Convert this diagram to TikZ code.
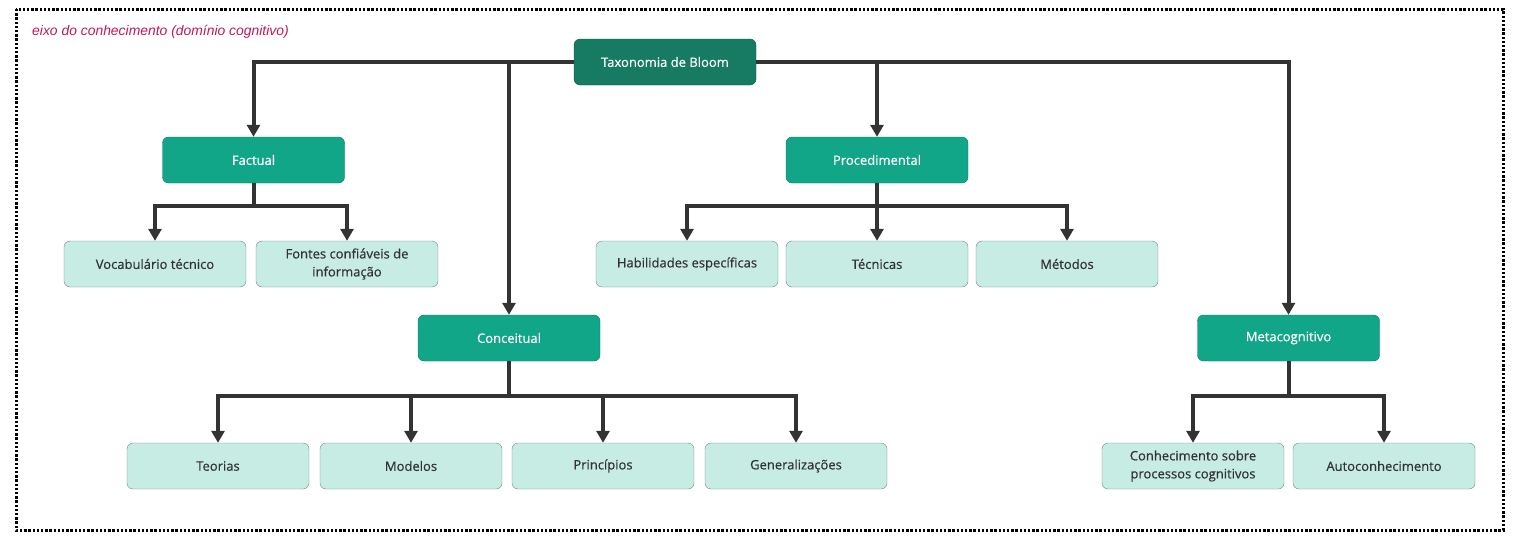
\documentclass[tikz,border=0pt]{standalone}
\usepackage{fontspec}
\setmainfont{Open Sans}
\newfontfamily\boxfont[FakeBold=0.5]{Open Sans}
\newfontfamily\notefont{Liberation Sans}
\usetikzlibrary{arrows.meta}

\definecolor{rootgreen}{RGB}{23,122,99}
\definecolor{rootline}{RGB}{14,84,68}
\definecolor{midgreen}{RGB}{17,166,136}
\definecolor{midline}{RGB}{12,118,97}
\definecolor{leafgreen}{RGB}{198,236,228}
\definecolor{leafline}{RGB}{110,140,132}
\definecolor{linkgray}{RGB}{51,51,51}
\definecolor{notered}{RGB}{192,24,90}

\begin{document}
\begin{tikzpicture}[x=1pt,y=1pt,yscale=-1,xscale=1,
  box/.style={rounded corners=6pt, minimum width=182pt, minimum height=46pt, inner sep=0pt, align=center, font=\boxfont\fontsize{13}{18}\selectfont},
  rootbox/.style={box, fill=rootgreen, draw=rootline, text=white},
  midbox/.style={box, fill=midgreen, draw=midline, text=white},
  leafbox/.style={box, fill=leafgreen, draw=leafline, text=linkgray},
  link/.style={draw=linkgray, line width=4pt, -{Triangle[width=13pt,length=12pt]}}]
\useasboundingbox (0,0) rectangle (1515,546);

%Shape: Frame
\draw [color=black, line width=3pt, dash pattern={on 2.4pt off 1.8pt}] (16,9) rectangle (1503,530);
% Text Node
\node [anchor=west, inner sep=0pt, text=notered, font=\notefont\itshape\fontsize{13.9}{16}\selectfont] (note) at (32,32) {eixo do conhecimento (domínio cognitivo)};

%Root
\node [rootbox] (root) at (665,62) {Taxonomia de Bloom};

%Second level
\node [midbox] (fact) at (253.5,160) {Factual};
\node [midbox] (proc) at (877,160) {Procedimental};
\node [midbox] (conc) at (509,338) {Conceitual};
\node [midbox] (meta) at (1288.5,338) {Metacognitivo};

%Leaves
\node [leafbox] (voc) at (155,264) {Vocabulário técnico};
\node [leafbox] (font) at (347,264) {Fontes confiáveis de\\informação};
\node [leafbox] (hab) at (687,264) {Habilidades específicas};
\node [leafbox] (tec) at (877,264) {Técnicas};
\node [leafbox] (met) at (1067,264) {Métodos};
\node [leafbox] (teo) at (218,466) {Teorias};
\node [leafbox] (mod) at (411,466) {Modelos};
\node [leafbox] (pri) at (603,466) {Princípios};
\node [leafbox] (gen) at (796,466) {Generalizações};
\node [leafbox] (proc2) at (1193,466) {Conhecimento sobre\\processos cognitivos};
\node [leafbox] (auto) at (1384,466) {Autoconhecimento};

%Links from root
\draw [link] (root.west) -| (fact.north);
\draw [link] (root.west) -| (conc.north);
\draw [link] (root.east) -| (proc.north);
\draw [link] (root.east) -| (meta.north);

%Links to leaves
\draw [link] (fact.south) -- ++(0,23) -| (voc.north);
\draw [link] (fact.south) -- ++(0,23) -| (font.north);
\draw [link] (proc.south) -- ++(0,23) -| (hab.north);
\draw [link] (proc.south) -- (tec.north);
\draw [link] (proc.south) -- ++(0,23) -| (met.north);
\draw [link] (conc.south) -- ++(0,35) -| (teo.north);
\draw [link] (conc.south) -- ++(0,35) -| (mod.north);
\draw [link] (conc.south) -- ++(0,35) -| (pri.north);
\draw [link] (conc.south) -- ++(0,35) -| (gen.north);
\draw [link] (meta.south) -- ++(0,35) -| (proc2.north);
\draw [link] (meta.south) -- ++(0,35) -| (auto.north);

\end{tikzpicture}
\end{document}
